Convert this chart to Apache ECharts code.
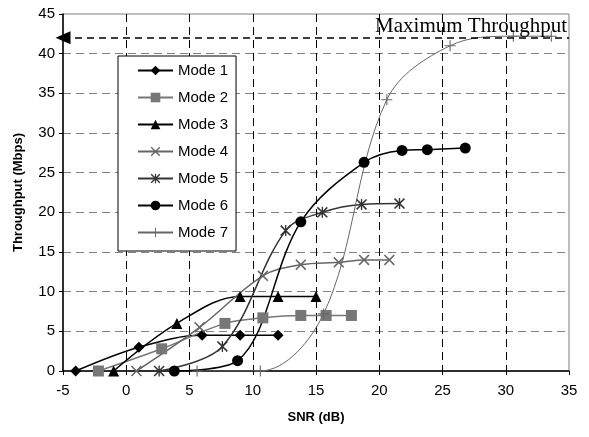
<!DOCTYPE html>
<html>
<head>
<meta charset="utf-8">
<script src="https://cdn.jsdelivr.net/npm/echarts@6/dist/echarts.min.js"></script>
<style>
  html, body { margin: 0; padding: 0; background: #fff; }
  #chart { width: 589px; height: 437px; }
</style>
</head>
<body>
<div id="chart"></div>
<script>
// SNR (dB) / Throughput (Mbps) pairs per mode
const mode1 = [[-4, 0], [1, 3], [6, 4.5], [9, 4.5], [12, 4.5]];
const mode2 = [[-2.2, 0], [2.8, 2.8], [7.8, 6], [10.8, 6.7], [13.8, 7], [15.8, 7], [17.8, 7]];
const mode3 = [[-1, 0], [4, 6], [9, 9.4], [12, 9.4], [15, 9.4]];
const mode4 = [[0.8, 0], [5.8, 5.5], [10.8, 12], [13.8, 13.4], [16.8, 13.7], [18.8, 14], [20.8, 14]];
const mode5 = [[2.6, 0], [7.6, 3.1], [12.6, 17.7], [15.5, 20], [18.6, 21], [21.6, 21.1]];
const mode6 = [[3.8, 0], [8.8, 1.3], [13.8, 18.8], [18.8, 26.3], [21.8, 27.8], [23.8, 27.9], [26.8, 28.1]];
const mode7 = [[5.6, 0], [10.6, 0], [15.6, 7.2], [20.6, 34.2], [25.6, 41], [30.6, 42.2], [33.6, 42.2]];
const modeNames = ['Mode 1', 'Mode 2', 'Mode 3', 'Mode 4', 'Mode 5', 'Mode 6', 'Mode 7'];
const maxThroughput = 42;

// marker shapes
const xMark = 'path://M0,1L1,0L5,4L9,0L10,1L6,5L10,9L9,10L5,6L1,10L0,9L4,5Z';
const starMark = 'path://M0,1L1,0L5,4L9,0L10,1L6,5L10,9L9,10L5,6L1,10L0,9L4,5Z M4.4,0L5.6,0L5.6,10L4.4,10Z';
const plusMark = 'path://M4.5,0L5.5,0L5.5,4.5L10,4.5L10,5.5L5.5,5.5L5.5,10L4.5,10L4.5,5.5L0,5.5L0,4.5L4.5,4.5Z';

const chart = echarts.init(document.getElementById('chart'));

function line(name, data, color, symbol, size, width) {
  return {
    name: name,
    type: 'line',
    data: data,
    smooth: 0.35,
    symbol: symbol,
    symbolSize: size,
    showAllSymbol: true,
    color: color,
    lineStyle: { color: color, width: width },
    itemStyle: { color: color },
    emphasis: { disabled: true },
    animation: false
  };
}

const series = [
  line(modeNames[0], mode1, '#000', 'diamond', 11, 1.5),
  line(modeNames[1], mode2, '#777', 'rect', 11, 1.5),
  line(modeNames[2], mode3, '#000', 'triangle', 11, 1.5),
  line(modeNames[3], mode4, '#666', xMark, 11, 1.5),
  line(modeNames[4], mode5, '#333', starMark, 11, 1.5),
  line(modeNames[5], mode6, '#000', 'circle', 11, 1.5),
  line(modeNames[6], mode7, '#666', plusMark, 11, 1)
];

// dashed "Maximum Throughput" line with arrow at the left
series[6].markLine = {
  silent: true,
  symbol: ['triangle', 'none'],
  symbolSize: [13, 15],
  lineStyle: { color: '#000', type: [7, 5], width: 1.5 },
  itemStyle: { color: '#000' },
  label: {
    show: true,
    position: 'insideEndTop',
    formatter: 'Maximum Throughput',
    fontFamily: 'Liberation Serif',
    fontSize: 21,
    color: '#000',
    distance: [2, 1]
  },
  data: [[{ coord: [-5, maxThroughput] }, { coord: [35, maxThroughput] }]]
};

chart.setOption({
  backgroundColor: '#fff',
  textStyle: { fontFamily: 'Liberation Sans' },
  grid: {
    left: 63, right: 20, top: 14, bottom: 66,
    show: true, borderColor: '#808080', borderWidth: 1
  },
  legend: {
    orient: 'vertical',
    left: 118, top: 56,
    data: modeNames,
    itemWidth: 35, itemHeight: 12,
    itemGap: 12,
    padding: [7, 8, 11, 19],
    borderColor: '#000', borderWidth: 1,
    backgroundColor: '#fff',
    textStyle: { fontSize: 15, color: '#000', fontFamily: 'Liberation Sans' }
  },
  xAxis: {
    type: 'value',
    min: -5, max: 35, interval: 5,
    name: 'SNR (dB)',
    nameLocation: 'middle',
    nameGap: 40,
    nameTextStyle: { fontWeight: 'bold', fontSize: 13, color: '#000' },
    axisLine: { onZero: false, lineStyle: { color: '#000', width: 1.5 } },
    axisTick: { show: true, inside: false, length: 4, lineStyle: { color: '#000' } },
    axisLabel: { fontSize: 15, color: '#000', margin: 12 },
    splitLine: { show: true, showMinLine: false, showMaxLine: false, lineStyle: { color: '#000', type: [8, 5], width: 1 } }
  },
  yAxis: {
    type: 'value',
    min: 0, max: 45, interval: 5,
    name: 'Throughput (Mbps)',
    nameLocation: 'middle',
    nameGap: 38,
    nameTextStyle: { fontWeight: 'bold', fontSize: 13, color: '#000' },
    axisLine: { show: true, onZero: false, lineStyle: { color: '#000', width: 1.5 } },
    axisTick: { show: true, inside: false, length: 4, lineStyle: { color: '#000' } },
    axisLabel: { fontSize: 15, color: '#000', margin: 8 },
    splitLine: { show: true, showMinLine: false, showMaxLine: false, lineStyle: { color: '#808080', type: [8, 5], width: 1.2 } }
  },
  series: series
});
</script>
</body>
</html>
